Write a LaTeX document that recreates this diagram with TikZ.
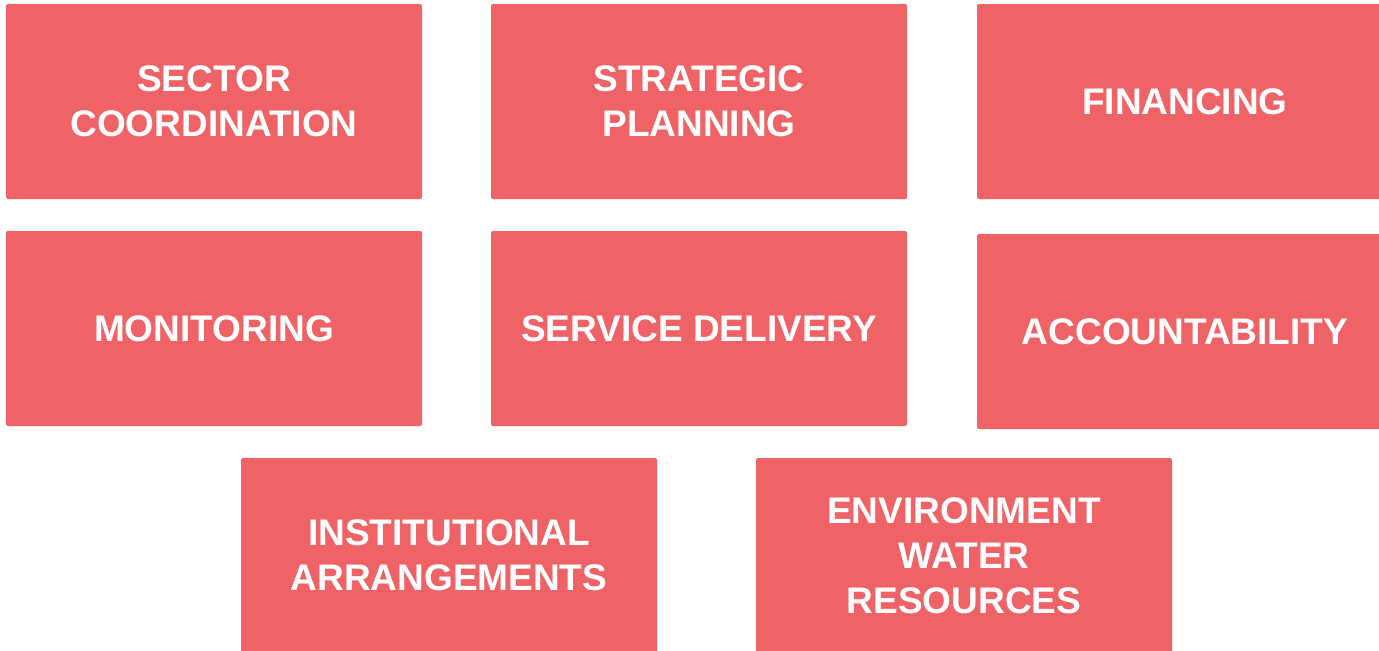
\documentclass[tikz,border=0pt]{standalone}
\usepackage{fontspec}
\setmainfont{Liberation Sans}
\usepackage{tikz}
\usetikzlibrary{positioning}
\definecolor{boxred}{HTML}{EF6266}
\tikzstyle{block} = [rectangle, fill=boxred, rounded corners=1pt, text=white,
    minimum width=208pt, minimum height=97.5pt, inner sep=0pt, align=center,
    font=\fontsize{18.5}{22.5}\selectfont\bfseries]

\begin{document}
\begin{tikzpicture}
    \clip (0,0) rectangle (689.5pt,-325pt);
    \useasboundingbox (0,0) rectangle (689.5pt,-325pt);
    \node (sector) [block] at (107pt,-50.75pt) {SECTOR\\COORDINATION};
    \node (strategic) [block, right of=sector, node distance=242.5pt] {STRATEGIC\\PLANNING};
    \node (financing) [block, right of=strategic, node distance=243pt] {FINANCING};

    \node (monitoring) [block, below of=sector, node distance=113.5pt] {MONITORING};
    \node (service) [block, right of=monitoring, node distance=242.5pt] {SERVICE DELIVERY};
    \node (accountability) [block, below of=financing, node distance=115pt] {ACCOUNTABILITY};

    \node (institutional) [block] at (224.5pt,-277.75pt) {INSTITUTIONAL\\ARRANGEMENTS};
    \node (environment) [block, right of=institutional, node distance=257.5pt] {ENVIRONMENT\\WATER\\RESOURCES};
\end{tikzpicture}
\end{document}
